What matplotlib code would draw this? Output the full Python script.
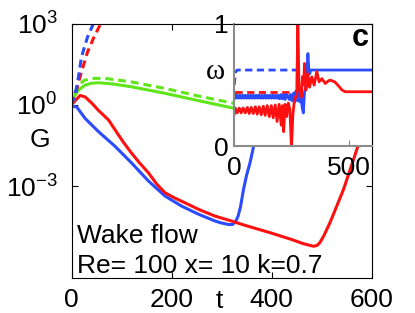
import numpy as np
import matplotlib.pyplot as plt
from matplotlib.ticker import FixedLocator, LogFormatterSciNotation

plt.rcParams['font.family'] = ['Liberation Sans', 'DejaVu Sans']
plt.rcParams['mathtext.fontset'] = 'custom'
plt.rcParams['mathtext.rm'] = 'Liberation Sans'

BLUE = '#2b4bff'
RED = '#ff1010'
GREEN = '#5fe61a'

# main panel, G on log scale (values stored as log10 G)
t_blue = [0, 10, 27, 54, 87, 120, 154, 187, 220, 254, 287, 297, 314, 322, 328, 333, 338, 344, 350, 357, 367, 380, 400]
lg_blue = [-0.06, -0.06, -0.49, -0.98, -1.52, -2.13, -2.8, -3.35, -3.72, -4.02, -4.27, -4.33, -4.4, -4.4, -4.3, -4.1, -3.75, -3.11, -2.6, -2.13, -1.28, -0.1, 1.6]

t_red = [0, 7, 17, 27, 40, 54, 74, 87, 103, 120, 137, 154, 170, 187, 204, 220, 254, 287, 320, 347, 397, 440, 463, 477, 484, 491, 497, 505, 517, 544, 564, 577, 600]
lg_red = [0.0, 0.15, 0.35, 0.3, 0.08, -0.2, -0.55, -0.91, -1.35, -1.77, -2.15, -2.5, -2.9, -3.23, -3.4, -3.54, -3.84, -4.09, -4.27, -4.43, -4.7, -4.95, -5.1, -5.17, -5.2, -5.17, -5.06, -4.8, -4.33, -3.11, -2.01, -1.28, 0.0]

t_green = [0, 5, 14, 27, 40, 54, 80, 120, 187, 254, 330]
lg_green = [-0.05, 0.3, 0.55, 0.73, 0.8, 0.82, 0.78, 0.67, 0.43, 0.16, -0.14]

t_green_d = [0, 5, 14, 25, 40, 67, 120, 187, 254, 330]
lg_green_d = [-0.05, 0.4, 0.73, 0.9, 0.98, 0.98, 0.85, 0.61, 0.33, 0.04]

t_red_d = [0, 8, 17, 32, 45, 57, 62]
lg_red_d = [0.0, 0.4, 1.04, 1.95, 2.5, 2.94, 3.1]

t_blue_d = [0, 6, 12, 20, 32, 44, 48]
lg_blue_d = [0.0, 0.3, 0.8, 1.77, 2.5, 3.0, 3.2]

# inset, omega
w_t_blue = [0, 6, 12, 18, 24, 30, 36, 42, 48, 54, 60, 66, 72, 78, 84, 90, 96, 102, 108, 114,
            120, 126, 132, 138, 144, 150, 156, 162, 168, 174, 180, 186, 192, 198, 204, 210,
            216, 222, 228, 234, 240, 246, 252, 258, 264, 270, 276, 282, 287, 292, 297, 302,
            307, 312, 317, 322, 326, 330, 334, 600]
w_blue = [0.44, 0.39, 0.415, 0.39, 0.415, 0.39, 0.415, 0.39, 0.415, 0.39, 0.415, 0.39, 0.415, 0.39,
          0.415, 0.39, 0.415, 0.39, 0.415, 0.39, 0.415, 0.39, 0.415, 0.39, 0.415, 0.39, 0.415, 0.39,
          0.415, 0.39, 0.415, 0.39, 0.415, 0.385, 0.42, 0.385, 0.42, 0.38, 0.42, 0.41, 0.38, 0.42,
          0.37, 0.43, 0.36, 0.45, 0.37, 0.46, 0.36, 0.40, 0.31, 0.27, 0.44, 0.48, 0.58, 0.755,
          0.62, 0.59, 0.62, 0.62]

w_t_blue_d = [0, 5, 12, 275]
w_blue_d = [0.50, 0.60, 0.62, 0.62]

w_t_red_d = [3, 268]
w_red_d = [0.443, 0.443]

w_t_red = [0, 4, 13, 22, 30, 39, 48, 57, 65, 74, 83, 92, 100, 109, 118, 127, 135, 144, 153, 162,
           170, 179, 187, 196, 205, 210, 216, 222, 229, 236, 243, 250, 256, 262, 268, 273, 278,
           283, 288, 293, 298, 303, 307, 313, 318, 322, 329, 339, 349, 361, 371, 383, 398, 410,
           419, 439, 453, 471, 485, 600]
w_red = [0.26, 0.31, 0.27, 0.31, 0.27, 0.31, 0.27, 0.315, 0.265, 0.315, 0.265, 0.32, 0.26, 0.32,
         0.255, 0.325, 0.25, 0.33, 0.24, 0.33, 0.23, 0.335, 0.20, 0.34, 0.17, 0.33, 0.117, 0.34,
         0.24, 0.35, 0.30, -0.02, 0.25, 0.36, 0.40, 0.42, 1.05, 0.45, 0.48, 0.40, 0.565, 0.50,
         0.674, 0.456, 0.52, 0.59, 0.48, 0.565, 0.497, 0.606, 0.524, 0.55, 0.51, 0.53, 0.538,
         0.524, 0.497, 0.457, 0.443, 0.443]

W, H = 415, 313
fig = plt.figure(figsize=(W / 100, H / 100), dpi=100)

ax = fig.add_axes([71.5 / W, 1 - 277.5 / H, 300 / W, 254 / H])
lw = 2.2
dash = (0, (2.6, 1.6))
ax.plot(t_blue, 10 ** np.array(lg_blue), color=BLUE, lw=lw)
ax.plot(t_red, 10 ** np.array(lg_red), color=RED, lw=lw)
ax.plot(t_green, 10 ** np.array(lg_green), color=GREEN, lw=lw)
ax.plot(t_green_d, 10 ** np.array(lg_green_d), color=GREEN, lw=lw, ls=dash)
ax.plot(t_red_d, 10 ** np.array(lg_red_d), color=RED, lw=lw, ls=dash)
ax.plot(t_blue_d, 10 ** np.array(lg_blue_d), color=BLUE, lw=lw, ls=dash)
ax.set_yscale('log')
ax.set_xlim(0, 600)
ax.set_ylim(10 ** -6.35, 1e3)
ax.set_xticks([0, 200, 400, 600])
ax.yaxis.set_major_locator(FixedLocator([1e-3, 1e0, 1e3]))
ax.yaxis.set_major_formatter(LogFormatterSciNotation())
ax.yaxis.set_minor_locator(FixedLocator([]))
ax.tick_params(direction='in', top=True, right=True, length=4, width=0.8, labelsize=19)
ax.tick_params(axis='x', pad=7.5)
ax.tick_params(axis='y', pad=10)
for s in ax.spines.values():
    s.set_linewidth(0.8)

ax.text(0.017, 0.137, 'Wake flow', transform=ax.transAxes, fontsize=19, va='baseline')
ax.text(0.017, 0.016, 'Re= 100 x= 10 k=0.7', transform=ax.transAxes, fontsize=19, va='baseline')

fig.text(40 / W, 1 - 140 / H, 'G', fontsize=19, ha='center', va='center')
fig.text(219 / W, 1 - 301 / H, 't', fontsize=19, ha='center', va='center')

# inset
ins = fig.add_axes([234.3 / W, 1 - 146 / H, 137.2 / W, 122.5 / H])
ins.plot(w_t_blue_d, w_blue_d, color=BLUE, lw=2, ls=dash)
ins.plot(w_t_red_d, w_red_d, color=RED, lw=2, ls=dash)
ins.plot(w_t_blue, w_blue, color=BLUE, lw=2)
ins.plot(w_t_red, w_red, color=RED, lw=2)
ins.set_xlim(0, 600)
ins.set_ylim(0, 1)
ins.set_xticks([0, 500])
ins.set_yticks([0, 1])
ins.set_yticklabels(['0', '1'])
ins.tick_params(direction='in', length=4, width=0.8, labelsize=19, color='0.5')
ins.tick_params(axis='x', pad=7.5)
ins.tick_params(axis='y', pad=4)
for k in ['left', 'bottom']:
    ins.spines[k].set_color('0.55')
    ins.spines[k].set_linewidth(1.5)
for k in ['top', 'right']:
    ins.spines[k].set_linewidth(0.8)

fig.text(215 / W, 1 - 72 / H, 'ω', fontsize=21, family=['Liberation Serif', 'DejaVu Serif'],
         ha='center', va='center')
fig.text(360 / W, 1 - 38.5 / H, 'c', fontsize=22, fontweight='bold', ha='center', va='center')

fig.savefig('out.png', dpi=100)
